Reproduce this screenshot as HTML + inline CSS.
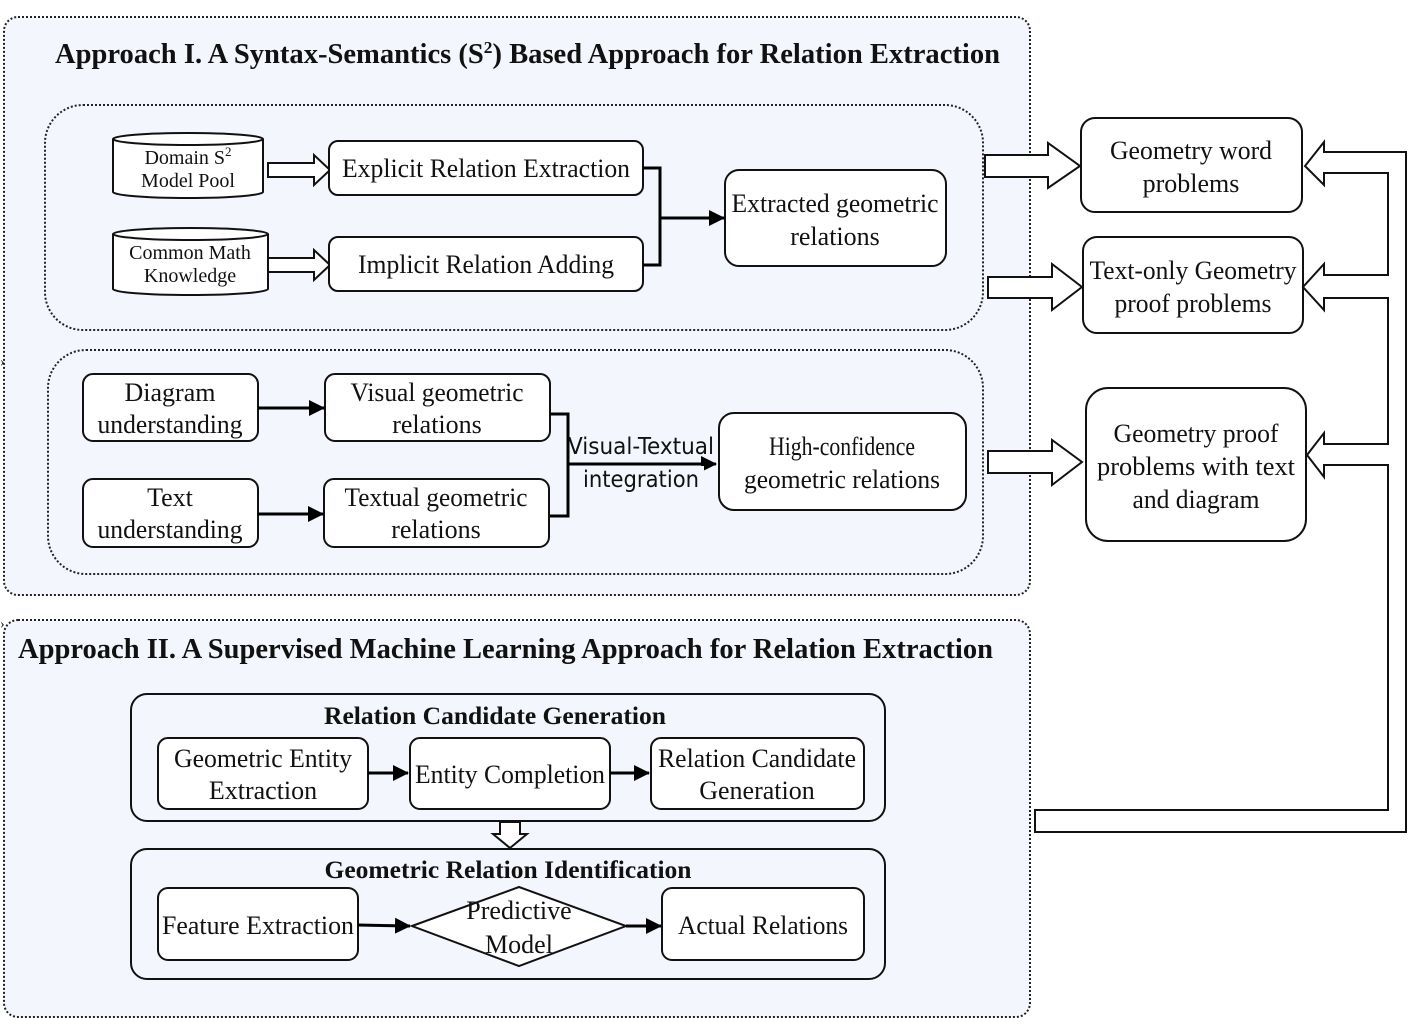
<!DOCTYPE html>
<html><head><meta charset="utf-8"><style>
html,body{margin:0;padding:0;background:#fff;}
svg{display:block;}
text{font-family:"Liberation Serif",serif;fill:#111;}
.b{font-weight:bold;}
</style></head><body>
<svg width="1426" height="1032" viewBox="0 0 1426 1032" xmlns="http://www.w3.org/2000/svg">
<defs>
<marker id="ah" markerWidth="10" markerHeight="10" refX="9" refY="5" orient="auto" markerUnits="userSpaceOnUse">
<path d="M0,0 L10,5 L0,10 z" fill="#000"/></marker>
<marker id="ah2" markerWidth="16" markerHeight="16" refX="15" refY="8" orient="auto" markerUnits="userSpaceOnUse">
<path d="M0,0 L16,8 L0,16 z" fill="#000"/></marker>
</defs>
<!-- Panels -->
<rect x="4" y="17" width="1026" height="578" rx="14" fill="#f3f6fd" stroke="#222" stroke-width="2" stroke-dasharray="2,2"/>
<rect x="4" y="620" width="1026" height="397" rx="14" fill="#f3f6fd" stroke="#222" stroke-width="2" stroke-dasharray="2,2"/>
<text x="0" y="366" font-size="14" fill="#1b2a55">›</text>
<text x="0" y="628" font-size="14" fill="#1b2a55">›</text>

<text class="b" x="55" y="63" font-size="28" textLength="945" lengthAdjust="spacingAndGlyphs">Approach I. A Syntax-Semantics (S<tspan font-size="17" dy="-10">2</tspan><tspan dy="10">) Based Approach for Relation Extraction</tspan></text>

<!-- inner box A -->
<rect x="45" y="105" width="938" height="225" rx="38" fill="none" stroke="#222" stroke-width="2" stroke-dasharray="2,2"/>
<!-- cylinders -->
<g fill="#fff" stroke="#111" stroke-width="2">
<path d="M113,139 L113,192 A75,6 0 0 0 263,192 L263,139"/>
<ellipse cx="188" cy="139" rx="75" ry="6"/>
<path d="M113,234 L113,289 A77,6 0 0 0 268,289 L268,234"/>
<ellipse cx="190.5" cy="234" rx="77.5" ry="6"/>
</g>
<text x="188" y="164" font-size="20" text-anchor="middle">Domain S<tspan font-size="13" dy="-8">2</tspan></text>
<text x="188" y="187" font-size="20" text-anchor="middle">Model Pool</text>
<text x="190" y="259" font-size="20" text-anchor="middle">Common Math</text>
<text x="190" y="282" font-size="20" text-anchor="middle">Knowledge</text>
<!-- hollow arrows small -->
<g fill="#fff" stroke="#111" stroke-width="2">
<path d="M268,163 L314,163 L314,155 L330,170 L314,185 L314,177 L268,177 z"/>
<path d="M268,258 L314,258 L314,250 L330,265 L314,280 L314,272 L268,272 z"/>
</g>
<g fill="#fff" stroke="#111" stroke-width="2">
<rect x="329" y="141" width="314" height="54" rx="9"/>
<rect x="329" y="237" width="314" height="54" rx="9"/>
<rect x="725" y="170" width="221" height="96" rx="14"/>
</g>
<text x="486" y="177" font-size="26" text-anchor="middle" textLength="288" lengthAdjust="spacingAndGlyphs">Explicit Relation Extraction</text>
<text x="486" y="273" font-size="26" text-anchor="middle" textLength="256" lengthAdjust="spacingAndGlyphs">Implicit Relation Adding</text>
<text x="835" y="212" font-size="26" text-anchor="middle" textLength="207" lengthAdjust="spacingAndGlyphs">Extracted geometric</text>
<text x="835" y="245" font-size="26" text-anchor="middle">relations</text>
<path d="M643,168 L660,168 L660,265 L643,265 M660,218 L724,218" fill="none" stroke="#000" stroke-width="3" marker-end="url(#ah2)"/>

<!-- inner box B -->
<rect x="48" y="350" width="935" height="224" rx="38" fill="none" stroke="#222" stroke-width="2" stroke-dasharray="2,2"/>
<g fill="#fff" stroke="#111" stroke-width="2">
<rect x="83" y="374" width="175" height="67" rx="10"/>
<rect x="325" y="374" width="225" height="67" rx="10"/>
<rect x="83" y="479" width="175" height="68" rx="10"/>
<rect x="324" y="479" width="225" height="68" rx="10"/>
<rect x="719" y="413" width="247" height="97" rx="15"/>
</g>
<text x="170" y="401" font-size="26" text-anchor="middle">Diagram</text>
<text x="170" y="433" font-size="26" text-anchor="middle" textLength="145" lengthAdjust="spacingAndGlyphs">understanding</text>
<text x="437" y="401" font-size="26" text-anchor="middle" textLength="173" lengthAdjust="spacingAndGlyphs">Visual geometric</text>
<text x="437" y="433" font-size="26" text-anchor="middle">relations</text>
<text x="170" y="506" font-size="26" text-anchor="middle">Text</text>
<text x="170" y="538" font-size="26" text-anchor="middle" textLength="145" lengthAdjust="spacingAndGlyphs">understanding</text>
<text x="436" y="506" font-size="26" text-anchor="middle" textLength="183" lengthAdjust="spacingAndGlyphs">Textual geometric</text>
<text x="436" y="538" font-size="26" text-anchor="middle">relations</text>
<text x="842" y="455" font-size="26" text-anchor="middle" textLength="146" lengthAdjust="spacingAndGlyphs">High-confidence</text>
<text x="842" y="488" font-size="26" text-anchor="middle" textLength="196" lengthAdjust="spacingAndGlyphs">geometric relations</text>
<path d="M258,408 L324,408" stroke="#000" stroke-width="3" marker-end="url(#ah2)"/>
<path d="M258,514 L323,514" stroke="#000" stroke-width="3" marker-end="url(#ah2)"/>
<path d="M550,414 L568,414 L568,516 L550,516 M568,464 L716,464" fill="none" stroke="#000" stroke-width="3" marker-end="url(#ah2)"/>
<rect x="570" y="432" width="144" height="24" fill="#f3f6fd"/>
<rect x="580" y="466" width="124" height="26" fill="#f3f6fd"/>
<text x="641" y="454" font-size="23" text-anchor="middle" style="font-family:'DejaVu Sans Condensed','Liberation Sans',sans-serif" textLength="146" lengthAdjust="spacingAndGlyphs">Visual-Textual</text>
<text x="641" y="487" font-size="23" text-anchor="middle" style="font-family:'DejaVu Sans Condensed','Liberation Sans',sans-serif" textLength="116" lengthAdjust="spacingAndGlyphs">integration</text>

<!-- right side -->
<g fill="#fff" stroke="#111" stroke-width="2">
<path d="M985,155 L1048,155 L1048,143 L1080,166 L1048,188 L1048,177 L985,177 z"/>
<path d="M988,277 L1052,277 L1052,264 L1082,287 L1052,310 L1052,298 L988,298 z"/>
<path d="M988,451 L1052,451 L1052,440 L1082,462 L1052,485 L1052,473 L988,473 z"/>
<rect x="1081" y="118" width="221" height="94" rx="14"/>
<rect x="1083" y="237" width="220" height="96" rx="14"/>
<rect x="1086" y="388" width="220" height="153" rx="22"/>
<path d="M1324,152 L1406,152 L1406,832 L1035,832 L1035,810 L1388,810 L1388,465 L1324,465 L1324,477 L1307,455 L1324,433 L1324,444 L1388,444 L1388,298 L1324,298 L1324,310 L1303,287 L1324,264 L1324,275 L1388,275 L1388,173 L1324,173 L1324,185 L1305,166 L1324,142 z"/>
</g>
<line x1="1030" y1="600" x2="1030" y2="1020" stroke="#fff" stroke-width="0"/>
<text x="1191" y="159" font-size="26" text-anchor="middle" textLength="162" lengthAdjust="spacingAndGlyphs">Geometry word</text>
<text x="1191" y="192" font-size="26" text-anchor="middle">problems</text>
<text x="1193" y="279" font-size="26" text-anchor="middle" textLength="207" lengthAdjust="spacingAndGlyphs">Text-only Geometry</text>
<text x="1193" y="312" font-size="26" text-anchor="middle" textLength="157" lengthAdjust="spacingAndGlyphs">proof problems</text>
<text x="1196" y="442" font-size="26" text-anchor="middle" textLength="165" lengthAdjust="spacingAndGlyphs">Geometry proof</text>
<text x="1196" y="475" font-size="26" text-anchor="middle" textLength="198" lengthAdjust="spacingAndGlyphs">problems  with text</text>
<text x="1196" y="508" font-size="26" text-anchor="middle" textLength="127" lengthAdjust="spacingAndGlyphs">and diagram</text>

<!-- Approach II -->
<text class="b" x="18" y="658" font-size="28" textLength="975" lengthAdjust="spacingAndGlyphs">Approach II. A Supervised Machine Learning Approach for Relation Extraction</text>
<g fill="none" stroke="#111" stroke-width="2">
<rect x="131" y="694" width="754" height="127" rx="16"/>
<rect x="131" y="849" width="754" height="130" rx="16"/>
</g>
<g fill="#fff" stroke="#111" stroke-width="2">
<rect x="158" y="738" width="210" height="71" rx="10"/>
<rect x="410" y="738" width="200" height="71" rx="10"/>
<rect x="651" y="738" width="213" height="71" rx="10"/>
<rect x="158" y="888" width="200" height="72" rx="10"/>
<rect x="662" y="888" width="202" height="72" rx="10"/>
<path d="M412,926 L519,887 L626,926 L519,966 z"/>
<path d="M500,822 L520,822 L520,834 L527,834 L510,848 L493,834 L500,834 z"/>
</g>
<text class="b" x="495" y="724" font-size="25" text-anchor="middle" textLength="342" lengthAdjust="spacingAndGlyphs">Relation Candidate Generation</text>
<text class="b" x="508" y="878" font-size="25" text-anchor="middle" textLength="367" lengthAdjust="spacingAndGlyphs">Geometric Relation Identification</text>
<text x="263" y="767" font-size="26" text-anchor="middle" textLength="178" lengthAdjust="spacingAndGlyphs">Geometric Entity</text>
<text x="263" y="799" font-size="26" text-anchor="middle">Extraction</text>
<text x="510" y="783" font-size="26" text-anchor="middle" textLength="190" lengthAdjust="spacingAndGlyphs">Entity Completion</text>
<text x="757" y="767" font-size="26" text-anchor="middle" textLength="198" lengthAdjust="spacingAndGlyphs">Relation Candidate</text>
<text x="757" y="799" font-size="26" text-anchor="middle">Generation</text>
<text x="258" y="934" font-size="26" text-anchor="middle" textLength="192" lengthAdjust="spacingAndGlyphs">Feature Extraction</text>
<text x="519" y="919" font-size="26" text-anchor="middle">Predictive</text>
<text x="519" y="953" font-size="26" text-anchor="middle">Model</text>
<text x="763" y="934" font-size="26" text-anchor="middle" textLength="170" lengthAdjust="spacingAndGlyphs">Actual Relations</text>
<path d="M368,773 L408,773" stroke="#000" stroke-width="3" marker-end="url(#ah2)"/>
<path d="M610,773 L649,773" stroke="#000" stroke-width="3" marker-end="url(#ah2)"/>
<path d="M358,925 L410,926" stroke="#000" stroke-width="3" marker-end="url(#ah2)"/>
<path d="M626,926 L661,926" stroke="#000" stroke-width="3" marker-end="url(#ah2)"/>
</svg>
</body></html>
